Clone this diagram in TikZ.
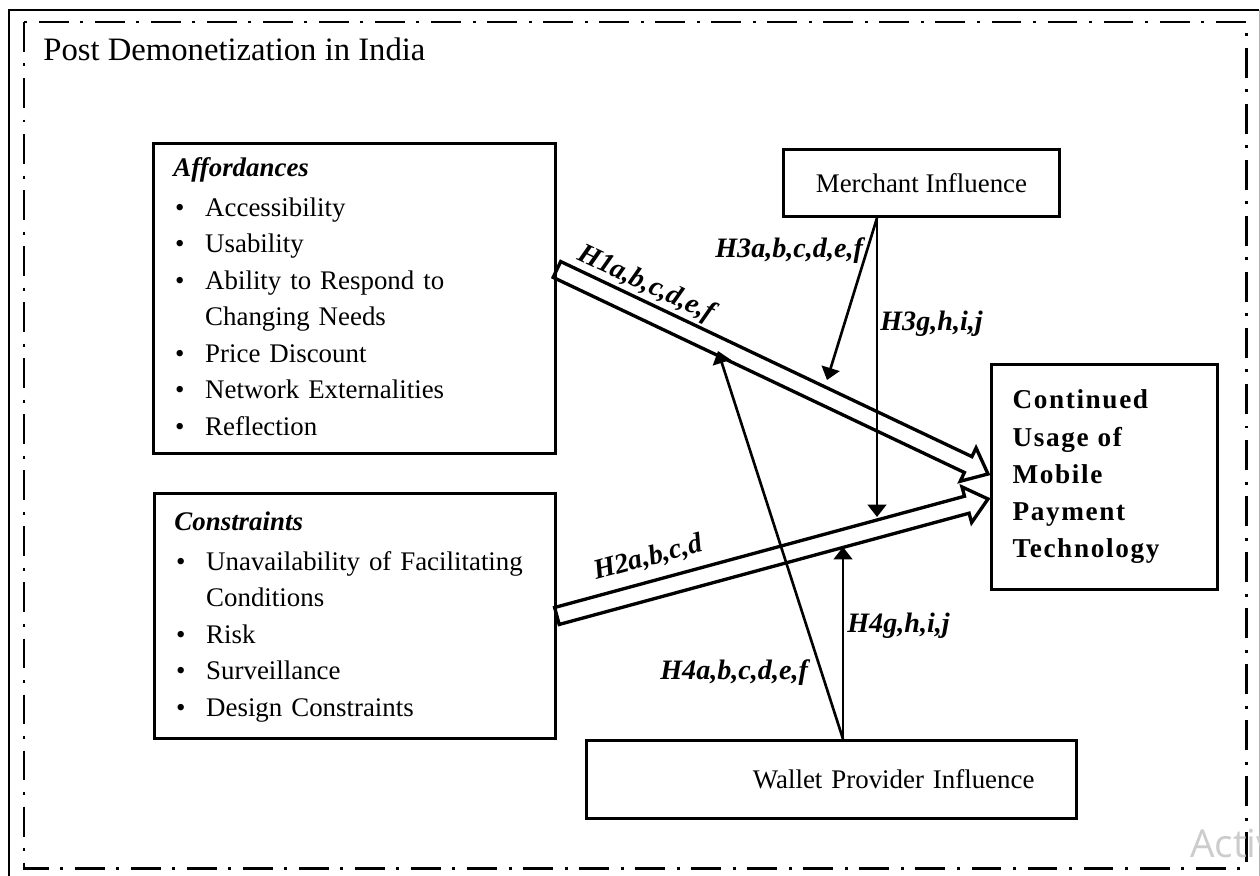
\documentclass[tikz,border=0pt]{standalone}
\usepackage{fontspec}
\setmainfont{Liberation Serif}
\newfontfamily\overlayfont{Open Sans}
\usetikzlibrary{arrows.meta,calc}

\begin{document}
\begin{tikzpicture}[x=0.02cm, y=-0.02cm,
    box/.style={draw, line width=1.7pt, inner sep=0pt},
    body/.style={font=\fontsize{15.3}{20.8}\selectfont},
    hyp/.style={font=\fontsize{16}{19}\selectfont\bfseries\itshape, inner sep=0pt},
    link/.style={line width=1.5pt, -{Triangle[length=7pt,width=10.5pt]}},
    fat/.style={line width=1.9pt, line join=miter,
      to path={($(\tikztostart)!5pt!90:(\tikztotarget)$)
        -- ($(\tikztotarget)!12.5pt!(\tikztostart)!5pt!-90:(\tikztostart)$)
        -- ($(\tikztotarget)!12.5pt!(\tikztostart)!10.5pt!-90:(\tikztostart)$)
        -- (\tikztotarget)
        -- ($(\tikztotarget)!12.5pt!(\tikztostart)!10.5pt!90:(\tikztostart)$)
        -- ($(\tikztotarget)!12.5pt!(\tikztostart)!5pt!90:(\tikztostart)$)
        -- ($(\tikztostart)!5pt!-90:(\tikztotarget)$) -- cycle}}]

  \useasboundingbox (0,0) rectangle (1260,875);

  % outer frames
  \draw [line width=1.7pt] (9,880) -- (9,10) -- (1259,10);
  \draw [gray!60, line width=0.5pt] (1259,10) -- (1259,880);
  \draw [line width=1.7pt, dash pattern=on 17pt off 6.6pt on 1.7pt off 6.6pt]
        (24,22) rectangle (1246,868);

  % title
  \node [anchor=base west, inner sep=0pt, font=\fontsize{18.6}{22}\selectfont] (title)
        at (43,61) {Post Demonetization in India};

  % boxes
  \node [box, body, anchor=north west, minimum width=8.04cm, minimum height=6.2cm,
         inner xsep=0.4cm, text width=7.24cm, align=left] (aff) at (152,142) {%
    \begin{tabular}{@{\hspace{1pt}}p{0.6cm}@{}l}
      \multicolumn{2}{@{}l}{\textbf{\textit{Affordances}}}\\[2pt]
      \textbullet & Accessibility\\
      \textbullet & Usability\\
      \textbullet & Ability to Respond to\\
                  & Changing Needs\\
      \textbullet & Price Discount\\
      \textbullet & Network Externalities\\
      \textbullet & Reflection
    \end{tabular}};

  \node [box, body, anchor=north west, minimum width=8.02cm, minimum height=4.9cm,
         inner xsep=0.4cm, text width=7.22cm, align=left] (con) at (153,492) {%
    \begin{tabular}{@{\hspace{1pt}}p{0.6cm}@{}l}
      \multicolumn{2}{@{}l}{\textbf{\textit{Constraints}}}\\[2pt]
      \textbullet & Unavailability of Facilitating\\
                  & Conditions\\
      \textbullet & Risk\\
      \textbullet & Surveillance\\
      \textbullet & Design Constraints
    \end{tabular}};

  \node [box, body, anchor=north west, minimum width=5.52cm, minimum height=1.34cm]
        (merch) at (782,148) {Merchant Influence};

  \node [box, anchor=north west, minimum width=4.52cm, minimum height=4.5cm,
         inner xsep=0.42cm, text width=3.68cm, align=left,
         font=\fontsize{15.5}{21.2}\selectfont\bfseries\addfontfeature{LetterSpace=6}]
        (usage) at (990,363) {Continued\\Usage of\\Mobile\\Payment\\Technology};

  \node [box, body, anchor=north west, minimum width=9.8cm, minimum height=1.56cm,
         inner xsep=0.84cm, text width=8.12cm, align=right]
        (wallet) at (585,739) {Wallet Provider Influence};

  % end points
  \coordinate (h1from) at ($(aff.east)+(0,-29)$);
  \coordinate (h1to)   at ($(usage.west)+(-2,-3)$);
  \coordinate (h2from) at (con.east);
  \coordinate (h2to)   at ($(usage.west)+(-2,22)$);
  \coordinate (mfoot)  at ($(merch.south west)+(95,0)$);
  \coordinate (wfoot)  at ($(wallet.north west)+(258,0)$);
  \coordinate (t3a)    at (827,380);
  \coordinate (t3g)    at (877,517);
  \coordinate (t4a)    at (718,351);
  \coordinate (t4g)    at (843,547);

  % main paths
  \draw [fat] (h1from) to (h1to);
  \draw [fat] (h2from) to (h2to);

  % moderating arrows
  \draw [link] (mfoot) -- (t3a);
  \draw [link] (mfoot) -- (t3g);
  \draw [link] (wfoot) -- (t4a);
  \draw [link] (wfoot) -- (t4g);

  % hypothesis labels
  \node [hyp, rotate=-25] (lh1) at (646,284) {H1a,b,c,d,e,f};
  \node [hyp, rotate=15]  (lh2) at (648,558) {H2a,b,c,d};
  \node [hyp, anchor=base west] (lh3a) at (715,257) {H3a,b,c,d,e,f};
  \node [hyp, anchor=base west] (lh3g) at (880,330) {H3g,h,i,j};
  \node [hyp, anchor=base west] (lh4a) at (660,679) {H4a,b,c,d,e,f};
  \node [hyp, anchor=base west] (lh4g) at (847,632) {H4g,h,i,j};

  % overlay text
  \node [anchor=base west, inner sep=0pt, text=gray!40,
         font=\overlayfont\fontsize{22}{26}\selectfont] (overlay) at (1190,857) {Activ};

\end{tikzpicture}
\end{document}
